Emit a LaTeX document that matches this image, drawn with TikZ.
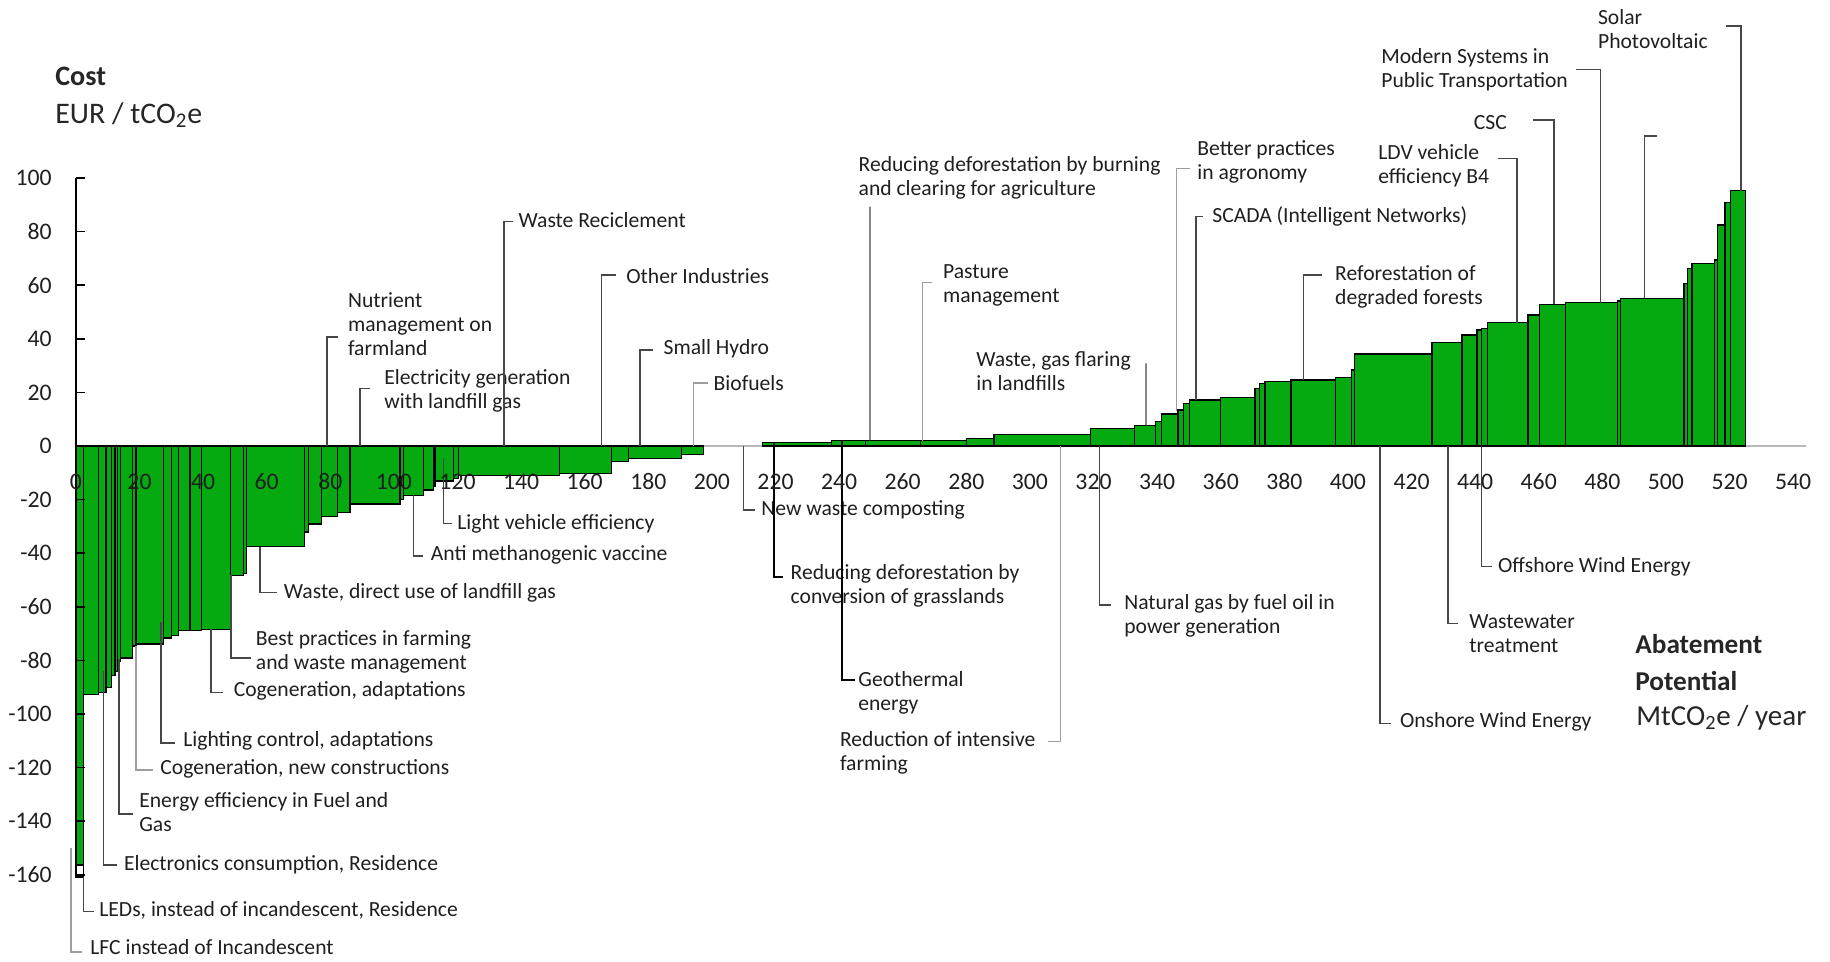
\documentclass[tikz,border=0pt]{standalone}
\usepackage{fontspec}
\setmainfont{Carlito}
\definecolor{macgreen}{RGB}{4,170,16}
\begin{document}
\begin{tikzpicture}[x=0.2mm, y=-0.2mm,
    lbl/.style={anchor=west, align=left, inner sep=0pt, text=black!88, font=\fontsize{12.3}{13.7}\selectfont},
    tick/.style={inner sep=0pt, text=black!88, font=\fontsize{13.5}{15}\selectfont},
    ttl/.style={anchor=base west, inner sep=0pt, text=black!85},
    leader/.style={draw=black!72, line width=0.28mm},
    leaderlt/.style={draw=black!38, line width=0.28mm},
    leaderbk/.style={draw=black, line width=0.36mm},
    bar/.style={draw=black, fill=macgreen, line width=0.25mm},
    chart/.style={shift={(75.9,446)}, x=0.636mm, y=0.536mm}]
  \useasboundingbox (0,0) rectangle (1830,961);

  % bars of the curve, in abatement / cost units
  \begin{scope}[chart]
    \draw[gray!55, line width=0.3mm] (0,0) -- (544,0);
    \foreach \a/\b/\c in {0/2.3/-156.3, 2.3/7.1/-92.8, 7.1/9.5/-91.9, 9.5/11.3/-90, 11.3/12.3/-85.5,
        12.3/13/-84.2, 13/14.1/-80.4, 14.1/17.9/-79.1, 17.9/18.9/-74.6, 18.9/27.5/-73.9,
        27.5/30.1/-71.6, 30.1/32.2/-70.7, 32.2/35.9/-68.8, 35.9/39.6/-68.8, 39.6/48.5/-68.4,
        48.5/52.6/-48.2, 52.6/53.7/-47.5, 53.7/72/-37.5, 72/73.1/-32.1, 73.1/77.3/-29.1,
        77.3/82.2/-26.3, 82.2/86.2/-24.8, 86.2/101.9/-21.6, 101.9/102.9/-20, 102.9/109.2/-18.4,
        109.2/112.4/-16.4, 112.4/112.9/-15, 112.9/118.7/-13.1, 118.7/120.2/-12, 120.2/152/-10.9,
        152/168.5/-10.3, 168.5/173.7/-5.7, 173.7/190.5/-4.6, 190.5/197.3/-3.2}
      \draw[bar] (\a,0) rectangle (\b,\c);
    \foreach \a/\b/\c in {215.9/237.7/1.2, 237.7/248.4/2, 248.4/265.6/2, 265.6/280.1/2, 280.1/288.7/2.9,
        288.7/319.1/4.4, 319.1/333/6.6, 333/339.6/7.6, 339.6/341.4/9.1, 341.4/346.6/11.9,
        346.6/348.4/13.4, 348.4/350.1/15.9, 350.1/360/17.2, 360/370.8/18, 370.8/372.2/21.5,
        372.2/373.9/23.4, 373.9/382.1/24, 382.1/396.2/24.6, 396.2/401.1/25.5, 401.1/402/28.4,
        402/426.4/34.3, 426.4/435.9/38.5, 435.9/440.6/41.4, 440.6/442/43.3, 442/444/43.9,
        444/456.6/46, 456.6/460.3/48.9, 460.3/468.4/52.9, 468.4/484.7/53.5, 484.7/485.7/54.1,
        485.7/505.7/55.1, 505.7/506.8/60.7, 506.8/508.2/66.3, 508.2/515.2/68.2, 515.2/516.3/69.4,
        516.3/518.6/82.5, 518.6/520.4/90.8, 520.4/525/95.3}
      \draw[bar] (\a,0) rectangle (\b,\c);
    \draw[bar, fill=white] (0,-156.3) rectangle (2.3,-160.8);

    \coordinate (nutr-p) at (78.9,0);
    \coordinate (elec-p) at (89.3,0);
    \coordinate (wrec-p) at (134.6,0);
    \coordinate (othi-p) at (165.3,0);
    \coordinate (shyd-p) at (177.4,0);
    \coordinate (biof-p) at (194.2,0);
    \coordinate (rdfb-p) at (249.7,2);
    \coordinate (past-p) at (266.3,2);
    \coordinate (wgfl-p) at (336.5,7.6);
    \coordinate (btpr-p) at (346.1,13);
    \coordinate (scad-p) at (352.2,17.2);
    \coordinate (refo-p) at (386,24.6);
    \coordinate (ldve-p) at (453.2,46);
    \coordinate (csc-p) at (464.8,52.9);
    \coordinate (mods-p) at (479.5,53.5);
    \coordinate (nolb-p) at (493.2,55.1);
    \coordinate (solr-p) at (523.6,95.3);
    \coordinate (lveh-p) at (115.5,-4.5);
    \coordinate (anti-p) at (106.1,-18.4);
    \coordinate (wdir-p) at (57.9,-37.5);
    \coordinate (bpfw-p) at (48.8,-48.2);
    \coordinate (coad-p) at (42.5,-68.4);
    \coordinate (ligh-p) at (26.7,-65.5);
    \coordinate (conc-p) at (18.9,-74.6);
    \coordinate (enef-p) at (13.6,-79.5);
    \coordinate (elco-p) at (8.6,-84);
    \coordinate (leds-p) at (2.3,-160.8);
    \coordinate (lfci-p) at (-1.5,-150);
    \coordinate (nwco-p) at (209.9,0);
    \coordinate (rdcg-p) at (219.5,1.2);
    \coordinate (geot-p) at (240.8,2);
    \coordinate (rdif-p) at (309.7,0);
    \coordinate (ngfo-p) at (321.8,0);
    \coordinate (onsh-p) at (410.1,0);
    \coordinate (wast-p) at (431.5,0);
    \coordinate (offs-p) at (442,0);
  \end{scope}

  % labels above the axis
  \node[lbl] (nutr) at (347.7,324) {Nutrient\\management on\\farmland};
  \node[lbl] (elec) at (384,391) {Electricity generation\\with landfill gas};
  \node[lbl] (wrec) at (518.3,220) {Waste Reciclement};
  \node[lbl] (othi) at (626,276) {Other Industries};
  \node[lbl] (shyd) at (663.3,348.3) {Small Hydro};
  \node[lbl] (biof) at (713.3,382.7) {Biofuels};
  \node[lbl] (rdfb) at (858.3,178.3) {Reducing deforestation by burning\\and clearing for agriculture};
  \node[lbl] (past) at (942.7,285) {Pasture\\management};
  \node[lbl] (wgfl) at (976,371) {Waste, gas flaring\\in landfills};
  \node[lbl] (btpr) at (1197,162) {Better practices\\in agronomy};
  \node[lbl] (scad) at (1212,216.7) {SCADA (Intelligent Networks)};
  \node[lbl] (refo) at (1334.8,287) {Reforestation of\\degraded forests};
  \node[lbl] (ldve) at (1378,165.3) {LDV vehicle\\efficiency B4};
  \node[lbl] (csc) at (1473.6,123) {CSC};
  \node[lbl] (mods) at (1381,70) {Modern Systems in\\Public Transportation};
  \node[lbl] (solr) at (1597.7,29.2) {Solar\\Photovoltaic};

  % labels below the axis
  \node[lbl] (lveh) at (457,524) {Light vehicle efficiency};
  \node[lbl] (anti) at (430.6,555) {Anti methanogenic vaccine};
  \node[lbl] (wdir) at (283.6,593) {Waste, direct use of landfill gas};
  \node[lbl] (bpfw) at (255.6,652) {Best practices in farming\\and waste management};
  \node[lbl] (coad) at (233.4,691) {Cogeneration, adaptations};
  \node[lbl] (ligh) at (183,741) {Lighting control, adaptations};
  \node[lbl] (conc) at (160,769) {Cogeneration, new constructions};
  \node[lbl] (enef) at (139,812.3) {Energy efficiency in Fuel and\\Gas};
  \node[lbl] (elco) at (123.7,865) {Electronics consumption, Residence};
  \node[lbl] (leds) at (99,910) {LEDs, instead of incandescent, Residence};
  \node[lbl] (lfci) at (90,947) {LFC instead of Incandescent};
  \node[lbl] (nwco) at (761,510) {New waste composting};
  \node[lbl] (rdcg) at (790.3,586) {Reducing deforestation by\\conversion of grasslands};
  \node[lbl] (geot) at (858,692.5) {Geothermal\\energy};
  \node[lbl] (rdif) at (839.7,753.3) {Reduction of intensive\\farming};
  \node[lbl] (ngfo) at (1124,615.5) {Natural gas by fuel oil in\\power generation};
  \node[lbl] (onsh) at (1399.7,721.7) {Onshore Wind Energy};
  \node[lbl] (wast) at (1469,633.3) {Wastewater\\treatment};
  \node[lbl] (offs) at (1497.8,566.7) {Offshore Wind Energy};

  % leader ends
  \coordinate (nutr-q) at (338,337);
  \coordinate (elec-q) at (370,388.3);
  \coordinate (wrec-q) at (512.7,221.7);
  \coordinate (othi-q) at (616,275);
  \coordinate (shyd-q) at (652.7,350);
  \coordinate (biof-q) at (708.3,383);
  \coordinate (rdfb-q) at (870,206.7);
  \coordinate (past-q) at (931.7,282.7);
  \coordinate (wgfl-q) at (1146,363.3);
  \coordinate (btpr-q) at (1190,168.3);
  \coordinate (scad-q) at (1203.4,216.7);
  \coordinate (refo-q) at (1322,275);
  \coordinate (ldve-q) at (1497.7,158.3);
  \coordinate (csc-q) at (1533,120);
  \coordinate (mods-q) at (1576,69.3);
  \coordinate (nolb-q) at (1657,136);
  \coordinate (solr-q) at (1726,26);
  \coordinate (lveh-q) at (451.7,523.4);
  \coordinate (anti-q) at (422.7,556);
  \coordinate (wdir-q) at (276.7,592.4);
  \coordinate (bpfw-q) at (250.7,658);
  \coordinate (coad-q) at (222.7,692.4);
  \coordinate (ligh-q) at (175,743);
  \coordinate (conc-q) at (152.7,770);
  \coordinate (enef-q) at (133.3,813.8);
  \coordinate (elco-q) at (116.7,864.8);
  \coordinate (leds-q) at (94.3,911.4);
  \coordinate (lfci-q) at (81.7,952);
  \coordinate (nwco-q) at (755,510);
  \coordinate (rdcg-q) at (783.4,576.7);
  \coordinate (geot-q) at (855,680);
  \coordinate (rdif-q) at (1048.3,741.7);
  \coordinate (ngfo-q) at (1111.4,605);
  \coordinate (onsh-q) at (1391.3,723.3);
  \coordinate (wast-q) at (1458.2,623.3);
  \coordinate (offs-q) at (1492,566.7);

  \foreach \n in {nutr,elec,wrec,othi,shyd,scad,refo,ldve,csc,mods,nolb,solr,
      lveh,anti,wdir,bpfw,coad,ligh,enef,elco,leds,nwco,ngfo,onsh,wast,offs}
    \draw[leader] (\n-p) |- (\n-q);
  \foreach \n in {biof,past,btpr,conc,lfci,rdif}
    \draw[leaderlt] (\n-p) |- (\n-q);
  \foreach \n in {rdcg,geot}
    \draw[leaderbk] (\n-p) |- (\n-q);
  \draw[leader] (rdfb-p) -- (rdfb-q);
  \draw[leader] (wgfl-p) -- (wgfl-q);

  % axes and scales
  \begin{scope}[chart]
    \draw[black, line width=0.3mm] (0,100) -- (0,-160.8);
    \foreach \v in {-160,-140,...,100} {
      \draw[black, line width=0.3mm] (0,\v) -- (3,\v);
      \node[tick, anchor=east] (y\v) at (-7.5,\v) {\v};
    }
    \foreach \k in {0,20,...,540}
      \node[tick] (x\k) at (\k,-13.4) {\k};
  \end{scope}

  \node[ttl, font=\fontsize{16}{18}\selectfont\bfseries] (cost) at (55,85) {Cost};
  \node[ttl, font=\fontsize{17}{19}\selectfont] (eur) at (55,123) {EUR / tCO\textsubscript{2}e};
  \node[ttl, font=\fontsize{15.5}{18}\selectfont\bfseries] (abat) at (1635,653) {Abatement};
  \node[ttl, font=\fontsize{15.5}{18}\selectfont\bfseries] (pote) at (1635,690) {Potential};
  \node[ttl, font=\fontsize{16.5}{19}\selectfont] (mtco) at (1636,725) {MtCO\textsubscript{2}e / year};
\end{tikzpicture}
\end{document}
